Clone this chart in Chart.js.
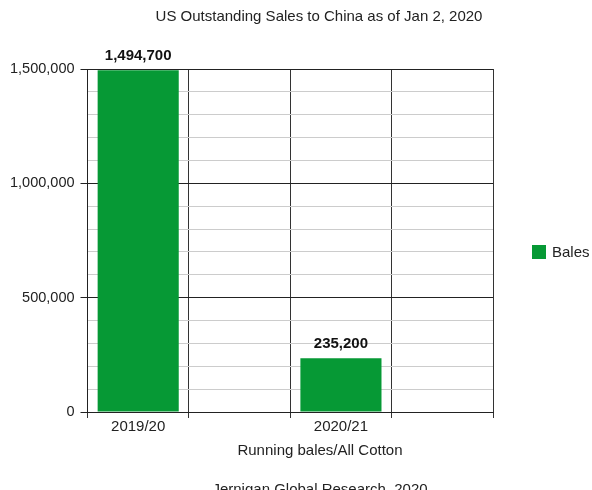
<!DOCTYPE html>
<html>
<head>
<meta charset="utf-8">
<title>US Outstanding Sales to China</title>
<script src="https://cdn.jsdelivr.net/npm/chart.js@4"></script>
<style>
  html, body { margin: 0; padding: 0; background: #fff; }
  #wrap { width: 592px; height: 490px; position: relative; }
</style>
</head>
<body>
<div id="wrap"><canvas id="salesChart"></canvas></div>
<script>
// Marketing years (blank slots keep the empty columns between bars)
const seasons = ['2019/20', '', '2020/21', ''];
const bales = [1494700, null, 235200, null];
const seriesName = 'Bales';
const yMax = 1500000;
const yStep = 100000;
const yMajor = 500000;

const chartTitle = 'US Outstanding Sales to China as of Jan 2, 2020';
const xCaption = 'Running bales/All Cotton';
const footerText = 'Jernigan Global Research  2020';

const FONT = 'Arial, "Liberation Sans", sans-serif';
const GREEN = '#069935';

// Value labels over the bars, titles and the right-hand legend
const annotate = {
  id: 'annotate',
  afterDatasetsDraw(chart) {
    const ctx = chart.ctx;
    const meta = chart.getDatasetMeta(0);
    ctx.save();
    ctx.fillStyle = '#111';
    ctx.font = 'bold 15px ' + FONT;
    ctx.textAlign = 'center';
    ctx.textBaseline = 'middle';
    meta.data.forEach((bar, i) => {
      const v = bales[i];
      if (v == null) return;
      ctx.fillText(v.toLocaleString('en-US'), bar.x, bar.y - 14);
    });
    ctx.restore();
  },
  afterDraw(chart) {
    const ctx = chart.ctx;
    ctx.save();
    ctx.fillStyle = '#222';
    ctx.font = '15px ' + FONT;
    ctx.textAlign = 'center';
    ctx.textBaseline = 'middle';
    ctx.fillText(chartTitle, 319, 17);
    ctx.fillText(xCaption, 320, 451);
    ctx.textBaseline = 'alphabetic';
    ctx.fillText(footerText, 320, 494);

    // legend
    ctx.fillStyle = GREEN;
    ctx.fillRect(532, 245, 14, 14);
    ctx.fillStyle = '#222';
    ctx.textAlign = 'left';
    ctx.textBaseline = 'middle';
    ctx.fillText(seriesName, 552, 253);
    ctx.restore();
  }
};

new Chart(document.getElementById('salesChart').getContext('2d'), {
  type: 'bar',
  data: {
    labels: seasons,
    datasets: [{
      label: seriesName,
      data: bales,
      backgroundColor: GREEN,
      borderWidth: 0,
      barPercentage: 1.0,
      categoryPercentage: 0.8
    }]
  },
  plugins: [annotate],
  options: {
    responsive: true,
    maintainAspectRatio: false,
    animation: false,
    layout: { padding: { left: 4, right: 99, top: 69, bottom: 54 } },
    plugins: {
      legend: { display: false },
      title: { display: false },
      tooltip: { enabled: false }
    },
    scales: {
      x: {
        offset: true,
        grid: {
          offset: true,
          color: '#333',
          lineWidth: 1,
          tickLength: 6
        },
        border: { color: '#222' },
        ticks: {
          color: '#222',
          font: { family: FONT, size: 15 },
          padding: 0,
          maxRotation: 0
        }
      },
      y: {
        min: 0,
        max: yMax,
        grid: {
          color: (c) => (c.tick && c.tick.value % yMajor === 0 ? '#222' : '#ccc'),
          tickColor: (c) => (c.tick && c.tick.value % yMajor === 0 ? '#222' : 'rgba(0,0,0,0)'),
          tickLength: 7
        },
        border: { color: '#222' },
        ticks: {
          stepSize: yStep,
          autoSkip: false,
          color: '#222',
          font: { family: FONT, size: 14.5 },
          padding: 6,
          callback: (v) => (v % yMajor === 0 ? v.toLocaleString('en-US') : '')
        }
      }
    }
  }
});
</script>
</body>
</html>
